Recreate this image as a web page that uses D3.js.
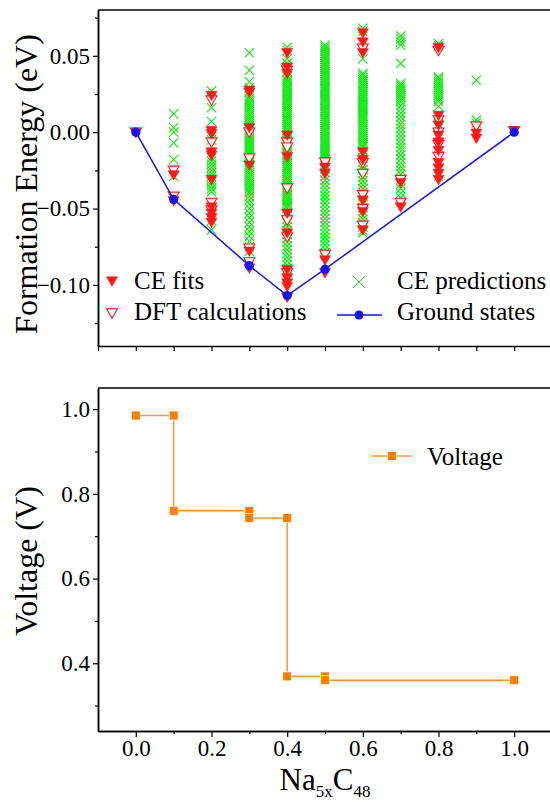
<!DOCTYPE html>
<html>
<head>
<meta charset="utf-8">
<script src="https://cdn.jsdelivr.net/npm/d3@7"></script>
<style>
  body { margin: 0; background: #fff; }
  svg text { font-family: "Liberation Serif", "Times New Roman", Times, "Nimbus Roman", "DejaVu Serif", serif; fill: #000; }
</style>
</head>
<body>
<svg id="chart" width="550" height="802"></svg>
<script>
// ---- Formation energies (eV) per Na content x, grouped by composition ----
const cePredictions = [
  [0.1, [0.012, 0.003, 0.0, -0.007, -0.018, -0.029]],
  [0.2, [0.027, 0.016, 0.007, -0.003, -0.005, -0.017, -0.019, -0.021, -0.023, -0.025, -0.027,
         -0.029, -0.031, -0.033, -0.035, -0.037, -0.039, -0.046, -0.052, -0.058, -0.064]],
  [0.3, [0.052, 0.0405, 0.033, 0.029, 0.026, 0.0235, 0.022, 0.0205, 0.019, 0.0177, 0.0163,
         0.015, 0.0136, 0.0122, 0.011, 0.0096, 0.0083, 0.007, 0.0056, 0.0043, 0.003, 0.0016,
         0.0003, -0.001, -0.0024, -0.0037, -0.005, -0.0064, -0.0077, -0.009, -0.0104, -0.0117,
         -0.013, -0.0144, -0.0157, -0.017, -0.0184, -0.0197, -0.021, -0.0224, -0.0237, -0.025,
         -0.0264, -0.0277, -0.029, -0.0304, -0.0317, -0.033, -0.0344, -0.0357, -0.037, -0.0384,
         -0.0398, -0.042, -0.0445, -0.047, -0.050, -0.053, -0.056, -0.059, -0.062, -0.065,
         -0.068, -0.0715, -0.075, -0.078]],
  [0.4, [0.0556, 0.0535, 0.048, 0.045, 0.042, 0.0395, 0.037, 0.0357, 0.0343, 0.033, 0.0317,
         0.0303, 0.029, 0.0277, 0.0263, 0.025, 0.0237, 0.0223, 0.021, 0.0197, 0.0183, 0.017,
         0.0157, 0.0143, 0.013, 0.0117, 0.0103, 0.009, 0.0077, 0.0063, 0.005, 0.0037, 0.0023,
         0.001, -0.0003, -0.0017, -0.003, -0.0043, -0.0057, -0.007, -0.0083, -0.0097, -0.011,
         -0.0123, -0.0137, -0.015, -0.0163, -0.0177, -0.019, -0.0203, -0.0217, -0.023, -0.0243,
         -0.0257, -0.027, -0.0283, -0.0297, -0.031, -0.0323, -0.0337, -0.035, -0.0363, -0.0377,
         -0.039, -0.0403, -0.0417, -0.043, -0.0443, -0.0457, -0.047, -0.0483, -0.0497, -0.052,
         -0.0545, -0.057, -0.0595, -0.062, -0.0645, -0.067, -0.0695, -0.072, -0.0745, -0.077,
         -0.0795, -0.082, -0.0845, -0.087, -0.0895, -0.092]],
  [0.5, [0.057, 0.0557, 0.0543, 0.053, 0.0517, 0.0503, 0.049, 0.0477, 0.0463, 0.045, 0.0437,
         0.0423, 0.041, 0.0397, 0.0383, 0.037, 0.0357, 0.0343, 0.033, 0.0317, 0.0303, 0.029,
         0.0277, 0.0263, 0.025, 0.0237, 0.0223, 0.021, 0.0197, 0.0183, 0.017, 0.0157, 0.0143,
         0.013, 0.0117, 0.0103, 0.009, 0.0077, 0.0063, 0.005, 0.0037, 0.0023, 0.001, -0.0003,
         -0.0017, -0.003, -0.0043, -0.0057, -0.007, -0.0083, -0.0097, -0.011, -0.0123, -0.0137,
         -0.015, -0.0163, -0.0177, -0.019, -0.0215, -0.024, -0.0265, -0.029, -0.0315, -0.034,
         -0.0365, -0.039, -0.0415, -0.044, -0.0465, -0.049, -0.0515, -0.054, -0.0565, -0.059,
         -0.0615, -0.064, -0.0665, -0.069, -0.0715, -0.074, -0.0765, -0.079]],
  [0.6, [0.068, 0.066, 0.048, 0.0385, 0.0372, 0.0358, 0.0345, 0.0332, 0.0318, 0.0305, 0.0292,
         0.0278, 0.0265, 0.0252, 0.0238, 0.0225, 0.0212, 0.0198, 0.0185, 0.0172, 0.0158, 0.0145,
         0.0132, 0.0118, 0.0105, 0.0092, 0.0078, 0.0065, 0.0052, 0.0038, 0.0025, 0.0012, -0.0002,
         -0.0015, -0.0028, -0.0042, -0.0055, -0.0068, -0.0082, -0.0095, -0.012, -0.0145, -0.017,
         -0.0195, -0.022, -0.0245, -0.027, -0.0295, -0.032, -0.0345, -0.037, -0.0395, -0.042,
         -0.0445, -0.047, -0.0495, -0.052, -0.0545, -0.057, -0.0595, -0.062, -0.0645, -0.066]],
  [0.7, [0.063, 0.061, 0.059, 0.057, 0.045, 0.032, 0.0307, 0.0293, 0.028, 0.0267, 0.0253, 0.024,
         0.0227, 0.0213, 0.020, 0.0175, 0.015, 0.0125, 0.010, 0.0075, 0.005, 0.0025, 0.0, -0.0025,
         -0.005, -0.0075, -0.010, -0.0125, -0.015, -0.0175, -0.020, -0.0225, -0.025, -0.0275,
         -0.031, -0.034, -0.037, -0.040, -0.043]],
  [0.8, [0.058, 0.0565, 0.036, 0.0347, 0.0333, 0.032, 0.0307, 0.0293, 0.028, 0.0267, 0.0253,
         0.024, 0.0227, 0.0213, 0.020, 0.017, 0.011, 0.005, -0.002, -0.010, -0.020, -0.029]],
  [0.9, [0.034, 0.008, 0.006]]
];

const dftCalculations = [
  [0.0, [0.0]],
  [0.1, [-0.025, -0.042]],
  [0.2, [0.021, -0.0065, -0.046, -0.051]],
  [0.3, [0.0, -0.017, -0.076, -0.085]],
  [0.4, [0.0405, -0.0065, -0.0098, -0.0366, -0.0575, -0.0686, -0.092]],
  [0.5, [-0.0196, -0.080]],
  [0.6, [0.055, -0.020, -0.027, -0.041, -0.050, -0.061]],
  [0.7, [-0.031, -0.046]],
  [0.8, [0.0535, 0.008, 0.0, -0.008, -0.016]],
  [0.9, [0.004]],
  [1.0, [0.001]]
];

const ceFits = [
  [0.0, [0.0]],
  [0.1, [-0.028, -0.045]],
  [0.2, [0.024, 0.001, -0.001, -0.013, -0.015, -0.031, -0.049, -0.053, -0.056, -0.059]],
  [0.3, [0.0275, 0.026, 0.003, -0.0216, -0.078, -0.089]],
  [0.4, [0.052, 0.0425, 0.0385, -0.002, -0.016, -0.053, -0.066, -0.090, -0.0954, -0.0987, -0.101, -0.108]],
  [0.5, [-0.023, -0.027, -0.0837, -0.092]],
  [0.6, [0.065, 0.059, 0.052, -0.013, -0.018, -0.0445, -0.052, -0.064]],
  [0.7, [-0.033, -0.049]],
  [0.8, [0.0555, 0.011, 0.0046, -0.002, -0.0065, -0.012, -0.020, -0.0235, -0.027, -0.031]],
  [0.9, [-0.0007, -0.004]],
  [1.0, [0.001]]
];

const groundX = [0.0, 0.1, 0.3, 0.4, 0.5, 1.0];
const groundE = [0.0, -0.044, -0.0874, -0.107, -0.0897, 0.0];

// ---- Voltage profile (V) ----
const voltageX = [0.0, 0.1, 0.1, 0.3, 0.3, 0.4, 0.4, 0.5, 0.5, 1.0];
const voltageV = [0.985, 0.985, 0.76, 0.76, 0.743, 0.743, 0.369, 0.369, 0.36, 0.36];

// ---- Ticks and labels ----
const topXTicks = [-0.1, 0.0, 0.1, 0.2, 0.3, 0.4, 0.5, 0.6, 0.7, 0.8, 0.9, 1.0, 1.1];
const topYMajor = [-0.10, -0.05, 0.00, 0.05];
const topYMinor = [-0.125, -0.075, -0.025, 0.025, 0.075];
const botXMajor = [0.0, 0.2, 0.4, 0.6, 0.8, 1.0];
const botXMinor = [0.1, 0.3, 0.5, 0.7, 0.9];
const botYMajor = [0.4, 0.6, 0.8, 1.0];
const botYMinor = [0.3, 0.5, 0.7, 0.9];
const topLegendLabels = ["CE fits", "DFT calculations", "CE predictions", "Ground states"];
const botLegendLabel = "Voltage";

const RED = "#ff1a1a", GREEN = "#16e816", BLUE = "#1414f0", ORANGE = "#ff8000";
const SERIF = '"Liberation Serif", "Times New Roman", Times, "Nimbus Roman", "DejaVu Serif", serif';

const svg = d3.select("#chart");

const x = d3.scaleLinear().domain([-0.1, 1.1]).range([98, 552]);
const yTop = d3.scaleLinear().domain([-0.14, 0.08]).range([346, 10]);
const yBot = d3.scaleLinear().domain([0.24, 1.05]).range([731, 388]);

const triDown = "M-5.5,-4.2L5.5,-4.2L0,5.3Z";
const cross = "M-4.7,-4.7L4.7,4.7M-4.7,4.7L4.7,-4.7";

function flatten(groups) {
  const out = [];
  groups.forEach(([cx, vals]) => vals.forEach(v => out.push([cx, v])));
  return out;
}

// ================= Upper panel: formation energies =================
const upper = svg.append("g");

upper.append("g").selectAll("path")
  .data(flatten(cePredictions)).join("path")
  .attr("d", cross)
  .attr("transform", d => `translate(${x(d[0])},${yTop(d[1])})`)
  .attr("fill", "none").attr("stroke", GREEN).attr("stroke-width", 1.1);

upper.append("g").selectAll("path")
  .data(flatten(dftCalculations)).join("path")
  .attr("d", triDown)
  .attr("transform", d => `translate(${x(d[0])},${yTop(d[1])})`)
  .attr("fill", "#fff").attr("stroke", RED).attr("stroke-width", 1.1);

upper.append("g").selectAll("path")
  .data(flatten(ceFits)).join("path")
  .attr("d", triDown)
  .attr("transform", d => `translate(${x(d[0])},${yTop(d[1])})`)
  .attr("fill", RED).attr("stroke", RED).attr("stroke-width", 0.6);

const ground = groundX.map((v, i) => [v, groundE[i]]);
upper.append("path")
  .datum(ground)
  .attr("d", d3.line().x(d => x(d[0])).y(d => yTop(d[1])))
  .attr("fill", "none").attr("stroke", BLUE).attr("stroke-width", 1.5);
upper.append("g").selectAll("circle")
  .data(ground).join("circle")
  .attr("cx", d => x(d[0])).attr("cy", d => yTop(d[1])).attr("r", 4.6)
  .attr("fill", BLUE);

// axes
function styleAxis(g) {
  g.attr("font-family", null);
  g.selectAll("path.domain").attr("stroke", "#000").attr("stroke-width", 1.5);
  g.selectAll(".tick line").attr("stroke", "#000").attr("stroke-width", 1.2);
  g.selectAll(".tick text")
    .style("font-family", SERIF)
    .style("font-size", "23px").attr("fill", "#000");
}
function noLabels(g) { g.selectAll(".tick text").remove(); }

upper.append("g").attr("transform", "translate(0,346)")
  .call(d3.axisBottom(x).tickValues(topXTicks).tickSize(5).tickSizeOuter(0))
  .call(styleAxis).call(noLabels);
upper.append("g").attr("transform", "translate(98,0)")
  .call(d3.axisLeft(yTop).tickValues(topYMinor).tickSize(3).tickSizeOuter(0))
  .call(styleAxis).call(noLabels);
upper.append("g").attr("transform", "translate(98,0)")
  .call(d3.axisLeft(yTop).tickValues(topYMajor).tickSize(5).tickPadding(3).tickSizeOuter(0).tickFormat(d3.format(".2f")))
  .call(styleAxis);
upper.append("line").attr("x1", 98).attr("x2", 552).attr("y1", 10).attr("y2", 10)
  .attr("stroke", "#000").attr("stroke-width", 1.5);

upper.append("text")
  .attr("transform", "translate(37,184) rotate(-90)")
  .attr("text-anchor", "middle").style("font-size", "32px").style("font-family", SERIF)
  .text("Formation Energy (eV)");

// legend
const lg = upper.append("g").style("font-size", "25px").style("font-family", SERIF);
lg.append("path").attr("d", triDown).attr("transform", "translate(112,281)")
  .attr("fill", RED).attr("stroke", RED).attr("stroke-width", 0.6);
lg.append("text").attr("x", 134).attr("y", 289).text(topLegendLabels[0]);
lg.append("path").attr("d", triDown).attr("transform", "translate(112,313)")
  .attr("fill", "#fff").attr("stroke", RED).attr("stroke-width", 1.1);
lg.append("text").attr("x", 134).attr("y", 320).text(topLegendLabels[1]);
lg.append("path").attr("d", "M-6,-6L6,6M-6,6L6,-6").attr("transform", "translate(359,282)")
  .attr("fill", "none").attr("stroke", GREEN).attr("stroke-width", 1);
lg.append("text").attr("x", 397).attr("y", 289).text(topLegendLabels[2]);
lg.append("line").attr("x1", 337).attr("x2", 382).attr("y1", 315).attr("y2", 315)
  .attr("stroke", BLUE).attr("stroke-width", 1.5);
lg.append("circle").attr("cx", 359).attr("cy", 315).attr("r", 4.6).attr("fill", BLUE);
lg.append("text").attr("x", 397).attr("y", 320).text(topLegendLabels[3]);

// ================= Lower panel: voltage =================
const lower = svg.append("g");
const volt = voltageX.map((v, i) => [v, voltageV[i]]);

lower.append("path")
  .datum(volt)
  .attr("d", d3.line().x(d => x(d[0])).y(d => yBot(d[1])))
  .attr("fill", "none").attr("stroke", "#ff9a33").attr("stroke-width", 1.6);
lower.append("g").selectAll("rect")
  .data(volt).join("rect")
  .attr("x", d => x(d[0]) - 4.5).attr("y", d => yBot(d[1]) - 4.5)
  .attr("width", 9).attr("height", 9)
  .attr("fill", ORANGE).attr("stroke", "#fff").attr("stroke-width", 0.8);

lower.append("g").attr("transform", "translate(0,731)")
  .call(d3.axisBottom(x).tickValues(botXMinor).tickSize(3).tickSizeOuter(0))
  .call(styleAxis).call(noLabels);
lower.append("g").attr("transform", "translate(0,731)")
  .call(d3.axisBottom(x).tickValues(botXMajor).tickSize(6).tickPadding(3).tickSizeOuter(0).tickFormat(d3.format(".1f")))
  .call(styleAxis);
lower.append("g").attr("transform", "translate(98,0)")
  .call(d3.axisLeft(yBot).tickValues(botYMinor).tickSize(3).tickSizeOuter(0))
  .call(styleAxis).call(noLabels);
lower.append("g").attr("transform", "translate(98,0)")
  .call(d3.axisLeft(yBot).tickValues(botYMajor).tickSize(5).tickPadding(3).tickSizeOuter(0).tickFormat(d3.format(".1f")))
  .call(styleAxis);
lower.append("line").attr("x1", 98).attr("x2", 552).attr("y1", 388).attr("y2", 388)
  .attr("stroke", "#000").attr("stroke-width", 1.5);

lower.append("text")
  .attr("transform", "translate(37,561) rotate(-90)")
  .attr("text-anchor", "middle").style("font-size", "32px").style("font-family", SERIF)
  .text("Voltage (V)");

const xl = lower.append("text").attr("x", 325).attr("y", 790)
  .attr("text-anchor", "middle").style("font-size", "31px").style("font-family", SERIF);
xl.append("tspan").text("Na");
xl.append("tspan").attr("dy", 7).style("font-size", "17px").text("5x");
xl.append("tspan").attr("dy", -7).text("C");
xl.append("tspan").attr("dy", 7).style("font-size", "17px").text("48");

// legend
const lb = lower.append("g");
lb.append("line").attr("x1", 371).attr("x2", 412).attr("y1", 456).attr("y2", 456)
  .attr("stroke", "#ff9a33").attr("stroke-width", 1.6);
lb.append("rect").attr("x", 387.5).attr("y", 451.5).attr("width", 9).attr("height", 9)
  .attr("fill", ORANGE).attr("stroke", "#fff").attr("stroke-width", 0.8);
lb.append("text").attr("x", 427).attr("y", 465)
  .style("font-size", "25px").style("font-family", SERIF).text(botLegendLabel);
</script>
</body>
</html>
